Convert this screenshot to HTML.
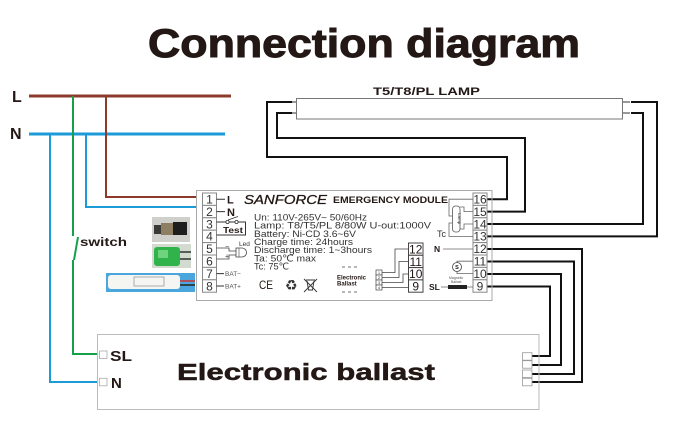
<!DOCTYPE html>
<html><head><meta charset="utf-8"><style>
html,body{margin:0;padding:0;background:#fff;}
svg{display:block;}
text{font-family:"Liberation Sans",Arial,"DejaVu Sans",sans-serif;}
</style></head><body>
<svg width="680" height="433" viewBox="0 0 680 433" xmlns="http://www.w3.org/2000/svg">
<rect width="680" height="433" fill="#fff"/>

<!-- Title -->
<text x="148" y="57" font-size="40" font-weight="bold" fill="#231815" stroke="#231815" stroke-width="1" textLength="432" lengthAdjust="spacingAndGlyphs">Connection diagram</text>

<!-- L / N labels -->
<text x="12" y="102" font-size="16" font-weight="bold" fill="#231815">L</text>
<text x="10" y="139" font-size="16" font-weight="bold" fill="#231815">N</text>

<!-- Mains wires -->
<g fill="none" stroke-linejoin="miter">
  <path d="M29,96 H231" stroke="#8c3a2a" stroke-width="3"/>
  <path d="M29,134 H225" stroke="#1b9bd7" stroke-width="3"/>
  <path d="M106,96 V197 H196" stroke="#8c3a2a" stroke-width="2"/>
  <path d="M86,134 V207 H196" stroke="#1b9bd7" stroke-width="2"/>
  <path d="M50,134 V382 H98" stroke="#1b9bd7" stroke-width="2"/>
  <path d="M73,96 V236" stroke="#16a04a" stroke-width="2"/>
  <path d="M78,237 L74,260" stroke="#16a04a" stroke-width="2"/>
  <path d="M73,260 V354 H98" stroke="#16a04a" stroke-width="2"/>
</g>
<text x="80" y="246" font-size="12" font-weight="bold" fill="#231815" textLength="47" lengthAdjust="spacingAndGlyphs">switch</text>

<!-- Photos -->
<rect x="152" y="217" width="38" height="25" fill="#cfd0cc"/>
<rect x="154" y="225" width="7" height="9" fill="#3a3a38"/>
<rect x="161" y="223" width="12" height="12" fill="#8e7f62"/>
<rect x="173" y="222" width="14" height="13" fill="#1e1e1e"/>
<rect x="152" y="244" width="39" height="24" fill="#d3dbd0"/>
<rect x="154" y="247" width="26" height="19" rx="3" fill="#2fb34a"/>
<rect x="158" y="250" width="10" height="8" fill="#6fd27e"/>
<path d="M180,252 H191 M180,259 H191" stroke="#333" stroke-width="1.5"/>
<rect x="106" y="273" width="89" height="19" fill="#4aa6dc"/>
<rect x="108" y="275" width="72" height="14" rx="3" fill="#f5f5f2"/>
<rect x="134" y="277" width="30" height="9" fill="none" stroke="#999" stroke-width="0.8"/>
<path d="M180,281 H195" stroke="#c33" stroke-width="1.5"/>
<path d="M180,285 H195" stroke="#222" stroke-width="1.5"/>

<!-- Lamp -->
<text x="373" y="95" font-size="11" font-weight="bold" fill="#231815" textLength="107" lengthAdjust="spacingAndGlyphs">T5/T8/PL  LAMP</text>
<rect x="296.5" y="98.5" width="326" height="20.5" fill="#fff" stroke="#777" stroke-width="1"/>
<path d="M290,102 H296 M290,113 H296 M623,102 H630 M623,113 H630" stroke="#999" stroke-width="2"/>

<!-- Black wires -->
<g fill="none" stroke="#111" stroke-width="2">
  <path d="M487,199.2 H507 V157 H267 V102 H292"/>
  <path d="M487,211.6 H525 V138 H277 V113 H292"/>
  <path d="M487,224 H643 V113 H631"/>
  <path d="M487,236.4 H657 V102 H631"/>
  <path d="M487,249 H582 V382 H532"/>
  <path d="M487,261.5 H574 V374 H532"/>
  <path d="M487,274 H561 V365 H532"/>
  <path d="M487,286.5 H550 V356 H532"/>
</g>

<!-- Module box -->
<rect x="196.5" y="190.5" width="295.5" height="110" fill="none" stroke="#aaa" stroke-width="1"/>

<!-- Left pins -->
<g fill="#fff" stroke="#888" stroke-width="1">
  <rect x="202.5" y="193" width="14" height="12.4"/>
  <rect x="202.5" y="205.4" width="14" height="12.4"/>
  <rect x="202.5" y="217.8" width="14" height="12.4"/>
  <rect x="202.5" y="230.2" width="14" height="12.4"/>
  <rect x="202.5" y="242.6" width="14" height="12.4"/>
  <rect x="202.5" y="255" width="14" height="12.4"/>
  <rect x="202.5" y="267.4" width="14" height="12.4"/>
  <rect x="202.5" y="279.8" width="14" height="12.4"/>
</g>
<g font-size="12" fill="#333" text-anchor="middle">
  <text x="209.5" y="203.5">1</text>
  <text x="209.5" y="215.9">2</text>
  <text x="209.5" y="228.3">3</text>
  <text x="209.5" y="240.7">4</text>
  <text x="209.5" y="253.1">5</text>
  <text x="209.5" y="265.5">6</text>
  <text x="209.5" y="277.9">7</text>
  <text x="209.5" y="290.3">8</text>
</g>

<!-- Right pins -->
<g fill="#fff" stroke="#888" stroke-width="1">
  <rect x="473" y="193" width="14" height="12.4"/>
  <rect x="473" y="205.4" width="14" height="12.4"/>
  <rect x="473" y="217.8" width="14" height="12.4"/>
  <rect x="473" y="230.2" width="14" height="12.4"/>
  <rect x="473" y="242.6" width="14" height="12.4"/>
  <rect x="473" y="255" width="14" height="12.4"/>
  <rect x="473" y="267.4" width="14" height="12.4"/>
  <rect x="473" y="279.8" width="14" height="12.4"/>
</g>
<g font-size="12" fill="#333" text-anchor="middle">
  <text x="480" y="203.5">16</text>
  <text x="480" y="215.9">15</text>
  <text x="480" y="228.3">14</text>
  <text x="480" y="240.7">13</text>
  <text x="480" y="253.1">12</text>
  <text x="480" y="265.5">11</text>
  <text x="480" y="277.9">10</text>
  <text x="480" y="290.3">9</text>
</g>

<!-- Left internals -->
<path d="M216.5,199.2 H225 M216.5,211.6 H225 M216.5,273.6 H224 M216.5,286 H224" stroke="#333" stroke-width="1"/>
<text x="227" y="203.5" font-size="11" font-weight="bold" fill="#231815">L</text>
<text x="227" y="216" font-size="11" font-weight="bold" fill="#231815">N</text>
<text x="225" y="276" font-size="6.5" fill="#555">BAT−</text>
<text x="225" y="288.5" font-size="6.5" fill="#555">BAT+</text>

<!-- Test switch -->
<path d="M216.5,222 H226 M229,222 H235 M238,222 H245.5 V235 H216.5" fill="none" stroke="#333" stroke-width="1"/>
<circle cx="227.5" cy="222" r="1.6" fill="#fff" stroke="#333" stroke-width="0.8"/>
<circle cx="236.5" cy="222" r="1.6" fill="#fff" stroke="#333" stroke-width="0.8"/>
<path d="M228,220 L238,216.5" stroke="#333" stroke-width="0.8"/>
<text x="223" y="233" font-size="8.5" font-weight="bold" fill="#231815" textLength="20" lengthAdjust="spacingAndGlyphs">Test</text>

<!-- LED -->
<path d="M216.5,248 H229 V251 H236 M216.5,259 H229 V255 H236" fill="none" stroke="#444" stroke-width="0.8"/>
<path d="M236,248 H242 A4.5,4.5 0 0 1 242,257 H236 Z" fill="#fff" stroke="#444" stroke-width="0.8"/>
<path d="M239,248 V257" stroke="#444" stroke-width="0.6"/>
<text x="239" y="246" font-size="6.5" fill="#333">Led</text>
<text x="225" y="249" font-size="7" fill="#333">−</text>
<text x="225" y="258.5" font-size="7" fill="#333">+</text>

<!-- Headings -->
<text x="244" y="204" font-size="13" font-style="italic" fill="#231815" stroke="#231815" stroke-width="0.3" textLength="83" lengthAdjust="spacingAndGlyphs">SANFORCE</text>
<text x="333" y="203" font-size="9" font-weight="bold" fill="#231815" textLength="115" lengthAdjust="spacingAndGlyphs">EMERGENCY  MODULE</text>

<!-- Spec text -->
<g font-size="9.5" fill="#333">
  <text x="254" y="220.5" textLength="113" lengthAdjust="spacingAndGlyphs">Un: 110V-265V~ 50/60Hz</text>
  <text x="254" y="228.7" textLength="177" lengthAdjust="spacingAndGlyphs">Lamp: T8/T5/PL   8/80W  U-out:1000V</text>
  <text x="254" y="236.8" textLength="102" lengthAdjust="spacingAndGlyphs">Battery: Ni-CD 3.6~6V</text>
  <text x="254" y="245" textLength="99" lengthAdjust="spacingAndGlyphs">Charge time: 24hours</text>
  <text x="254" y="253.2" textLength="118" lengthAdjust="spacingAndGlyphs">Discharge time: 1~3hours</text>
  <text x="254" y="261.3" textLength="62" lengthAdjust="spacingAndGlyphs">Ta: 50℃ max</text>
  <text x="254" y="269.5" textLength="35" lengthAdjust="spacingAndGlyphs">Tc: 75℃</text>
</g>

<!-- CE / recycle / bin -->
<text x="259" y="289" font-size="12" fill="#231815" textLength="14" lengthAdjust="spacingAndGlyphs">CE</text>
<text x="285" y="290" font-size="14" fill="#333">♻</text>
<g stroke="#333" stroke-width="0.9" fill="none">
  <path d="M306,280 H315 M307,281 L308.5,290 H312.5 L314,281"/>
  <path d="M304,279 L317,292 M317,279 L304,292"/>
</g>

<!-- Electronic ballast inset -->
<path d="M342,267 H358 M342,292 H358" stroke="#444" stroke-width="0.8" stroke-dasharray="3,3"/>
<text x="337" y="279.5" font-size="6" font-weight="bold" fill="#231815">Electronic</text>
<text x="337" y="285.5" font-size="6" font-weight="bold" fill="#231815">Ballast</text>
<g fill="#fff" stroke="#444" stroke-width="0.7">
  <rect x="376" y="270" width="6" height="5"/>
  <rect x="376" y="275" width="6" height="5"/>
  <rect x="376" y="280" width="6" height="5"/>
  <rect x="376" y="285" width="6" height="5"/>
</g>
<g font-size="4" fill="#333" text-anchor="middle">
  <text x="379" y="274">1</text><text x="379" y="279">2</text><text x="379" y="284">3</text><text x="379" y="289">4</text>
</g>
<g fill="none" stroke="#444" stroke-width="0.8">
  <path d="M382,272.5 H395 V249 H408"/>
  <path d="M382,277.5 H399 V261.5 H408"/>
  <path d="M382,282.5 H403 V274 H408"/>
  <path d="M382,287.5 H408"/>
</g>
<g fill="#fff" stroke="#444" stroke-width="1">
  <rect x="408.5" y="243" width="14.5" height="12.3"/>
  <rect x="408.5" y="255.3" width="14.5" height="12.3"/>
  <rect x="408.5" y="267.6" width="14.5" height="12.3"/>
  <rect x="408.5" y="279.9" width="14.5" height="12.3"/>
</g>
<g font-size="12" fill="#231815" text-anchor="middle">
  <text x="415.7" y="253.5">12</text>
  <text x="415.7" y="265.8">11</text>
  <text x="415.7" y="278.1">10</text>
  <text x="415.7" y="290.4">9</text>
</g>

<!-- Right internals -->
<g fill="none" stroke="#666" stroke-width="0.8">
  <path d="M473,199.2 H449 V216 H452"/>
  <path d="M473,211.6 H464 V207 H460"/>
  <path d="M473,224 H464 V229 H460"/>
  <path d="M473,236.4 H449 V223 H452"/>
  <path d="M443,249 H473"/>
  <path d="M473,261.2 H457 V262.5"/>
  <path d="M457,271.5 V273.6 H473"/>
  <path d="M441,287 H448 M467,287 H473"/>
</g>
<rect x="452.5" y="206" width="7.5" height="26" rx="3" fill="#fff" stroke="#555" stroke-width="0.8"/>
<text x="0" y="0" font-size="4.5" fill="#333" transform="translate(457.8,213) rotate(90)">Lamp</text>
<text x="437" y="237" font-size="9" fill="#333">Tc</text>
<text x="434" y="252" font-size="8.5" font-weight="bold" fill="#231815">N</text>
<circle cx="457" cy="267" r="4.5" fill="#fff" stroke="#444" stroke-width="0.8"/>
<text x="457" y="269" font-size="5.5" font-weight="bold" fill="#231815" text-anchor="middle">S</text>
<text x="429" y="290" font-size="8.5" font-weight="bold" fill="#231815">SL</text>
<rect x="448" y="285" width="19" height="4" fill="#222"/>
<text x="449" y="279" font-size="3.5" fill="#555">Magnetic</text>
<text x="451" y="283" font-size="3.5" fill="#555">Ballast</text>

<!-- Electronic ballast box -->
<rect x="97.5" y="334.5" width="441.5" height="75" fill="none" stroke="#bbb" stroke-width="1"/>
<rect x="99.5" y="351" width="7.5" height="7.5" fill="#fff" stroke="#aaa" stroke-width="0.8"/>
<rect x="99.5" y="378.3" width="7.5" height="7.5" fill="#fff" stroke="#aaa" stroke-width="0.8"/>
<text x="110" y="361" font-size="15" font-weight="bold" fill="#231815" textLength="22" lengthAdjust="spacingAndGlyphs">SL</text>
<text x="111" y="388" font-size="15" font-weight="bold" fill="#231815">N</text>
<text x="177" y="380" font-size="23" font-weight="bold" fill="#231815" stroke="#231815" stroke-width="0.5" textLength="258" lengthAdjust="spacingAndGlyphs">Electronic ballast</text>
<g fill="#fff" stroke="#999" stroke-width="0.8">
  <rect x="522.5" y="352.7" width="9.5" height="7.5"/>
  <rect x="522.5" y="360.7" width="9.5" height="7.5"/>
  <rect x="522.5" y="370" width="9.5" height="7.5"/>
  <rect x="522.5" y="378.3" width="9.5" height="7.5"/>
</g>
</svg>
</body></html>
